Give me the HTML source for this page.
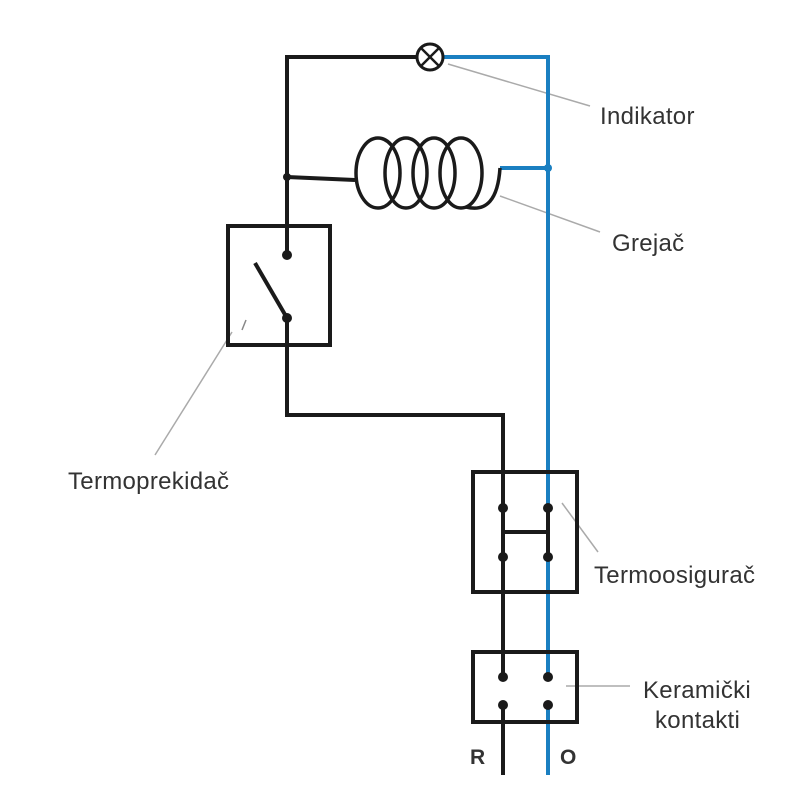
<!DOCTYPE html>
<html><head><meta charset="utf-8"><style>
html,body{margin:0;padding:0;background:#fff;}
svg{display:block}
text{font-family:"Liberation Sans",sans-serif;fill:#333;font-size:24px;letter-spacing:0.3px}
</style></head><body>
<svg width="800" height="800" viewBox="0 0 800 800">
<rect width="800" height="800" fill="#fff"/>
<g stroke="#aaa" stroke-width="1.5" fill="none">
<line x1="448" y1="64" x2="590" y2="106"/>
<line x1="500" y1="196" x2="600" y2="232"/>
<line x1="232" y1="332" x2="155" y2="455"/>
<line x1="562" y1="503" x2="598" y2="552"/>
<line x1="566" y1="686" x2="630" y2="686"/>
</g>
<g stroke="#1a7fc1" stroke-width="4" fill="none">
<polyline points="444,57 548,57 548,677"/>
<line x1="548" y1="705" x2="548" y2="775"/>
<line x1="500" y1="168" x2="548" y2="168"/>
</g>
<circle cx="548" cy="168" r="4" fill="#1a7fc1"/>
<g stroke="#1a1a1a" stroke-width="4" fill="none">
<polyline points="416,57 287,57 287,255"/>
<polyline points="287,318 287,415 503,415 503,677"/>
<line x1="503" y1="705" x2="503" y2="775"/>
<line x1="255" y1="263" x2="287" y2="318"/>
<rect x="228" y="226" width="102" height="119"/>
<rect x="473" y="472" width="104" height="120"/>
<rect x="473" y="652" width="104" height="70"/>
<line x1="503" y1="532" x2="548" y2="532"/>
<line x1="548" y1="508" x2="548" y2="557"/>
<line x1="287" y1="177" x2="355" y2="180"/>
<circle cx="430" cy="57" r="13" stroke-width="3"/>
<line x1="421" y1="48" x2="439" y2="66" stroke-width="2.5"/>
<line x1="439" y1="48" x2="421" y2="66" stroke-width="2.5"/>
<g stroke-width="3.5">
<ellipse cx="378" cy="173" rx="22" ry="35"/>
<ellipse cx="406" cy="173" rx="21" ry="35"/>
<ellipse cx="434" cy="173" rx="21" ry="35"/>
<ellipse cx="461" cy="173" rx="21" ry="35"/>
<path d="M466,207 Q497,215 500,168"/>
</g>
<line x1="242" y1="330" x2="246" y2="320" stroke-width="1.5" stroke="#888"/>
</g>
<g fill="#1a1a1a">
<circle cx="287" cy="177" r="4"/>
<circle cx="287" cy="255" r="5"/>
<circle cx="287" cy="318" r="5"/>
<circle cx="503" cy="508" r="5"/><circle cx="548" cy="508" r="5"/>
<circle cx="503" cy="557" r="5"/><circle cx="548" cy="557" r="5"/>
<circle cx="503" cy="677" r="5"/><circle cx="548" cy="677" r="5"/>
<circle cx="503" cy="705" r="5"/><circle cx="548" cy="705" r="5"/>
</g>
<text x="600" y="124">Indikator</text>
<text x="612" y="251">Grejač</text>
<text x="68" y="489">Termoprekidač</text>
<text x="594" y="583">Termoosigurač</text>
<text x="643" y="698">Keramički</text>
<text x="655" y="728">kontakti</text>
<text x="470" y="764" style="font-weight:bold;font-size:21px">R</text>
<text x="560" y="764" style="font-weight:bold;font-size:21px">O</text>
</svg>
</body></html>
